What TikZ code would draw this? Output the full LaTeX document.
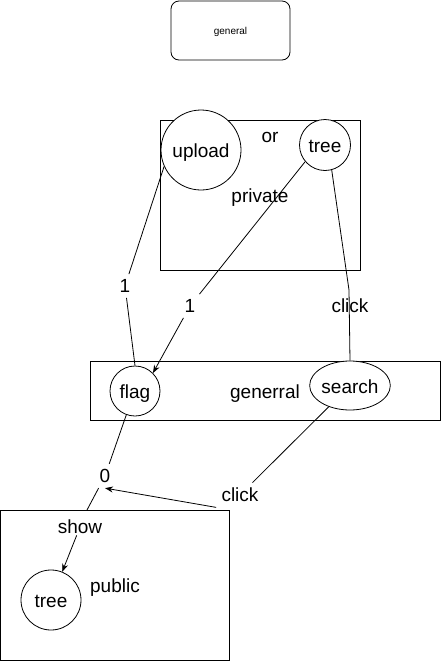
\documentclass[tikz,border=0pt]{standalone}
\usepackage{fontspec}
\setmainfont{Liberation Sans}
\usetikzlibrary{arrows.meta}
\usetikzlibrary{shapes.geometric}

\begin{document}
\begin{tikzpicture}[x=1pt, y=-1pt, line width=0.8pt,
    every node/.style={font=\fontsize{19}{22}\selectfont},
    circ/.style={circle, draw, fill=white, inner sep=0pt, text height=15pt, text depth=0pt},
    box/.style={rectangle, draw, inner sep=0pt, text height=15pt, text depth=0pt},
    lbl/.style={inner sep=5pt},
    >={Stealth[length=8pt, width=6pt]}]
    \useasboundingbox (0,0) rectangle (442,662);

    \node[box, rounded corners=8pt, minimum width=119pt, minimum height=59pt, text height=7pt, font=\fontsize{10}{12}\selectfont] (general) at (230.5,30.5) {general};
    \node[box, minimum width=200pt, minimum height=150pt] (private) at (260,195) {private};
    \node[box, minimum width=350pt, minimum height=59pt] (generral) at (265,390.5) {generral};
    \node[box, minimum width=229pt, minimum height=150pt] (public) at (115,585) {public};

    \node (or) at (270,137) {or};
    \node[circ, minimum size=80pt] (upload) at (201,150) {upload};
    \node[circ, minimum size=51pt] (tree1) at (325,145) {tree};
    \node[circ, minimum size=50pt] (flag) at (135,391) {flag};
    \node[ellipse, draw, fill=white, inner sep=0pt, text height=15pt, text depth=0pt, minimum width=80pt, minimum height=49pt] (search) at (350,385.5) {search};
    \node[circ, minimum size=60pt] (tree2) at (51,600) {tree};

    \node[lbl] (one1) at (125,286) {1};
    \node[lbl] (one2) at (190,306) {1};
    \node[lbl] (click1) at (350,306) {click};
    \node[lbl] (zero) at (105,476) {0};
    \node[lbl] (click2) at (240,495) {click};
    \node[inner sep=1pt] (show) at (80,527) {show};
    \coordinate (bend) at (349,290);
    \coordinate (pubin) at (87,510);

    \draw (upload.204) -- (one1) -- (flag.north);
    \draw (tree1.220) -- (one2);
    \draw[->] (one2) -- (flag.45);
    \draw (tree1.285) -- (bend) -- (search.north);
    \draw (flag.250) -- (zero) -- (pubin);
    \draw (search.225) -- (click2);
    \draw[->] (click2.south west) -- (zero.south);
    \draw[->] (show) -- (tree2);
\end{tikzpicture}
\end{document}
